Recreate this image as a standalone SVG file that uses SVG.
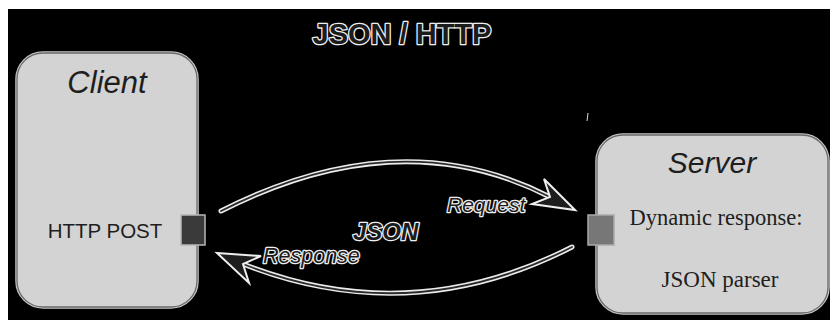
<svg xmlns="http://www.w3.org/2000/svg" width="830" height="320" viewBox="0 0 830 320">
<defs>
<style>
.box-halo{fill:none;stroke:#c8c8c8;stroke-width:3.5}
.box{fill:#d3d3d3;stroke:#6a6a6a;stroke-width:1.3}
.sans{font-family:"Liberation Sans",Arial,sans-serif}
.serif{font-family:"Liberation Serif","Times New Roman",serif;fill:#1e1e1e}
.title{font-style:italic;fill:#1e1e1e}
.glow{fill:#1c1c1c;stroke:#efefef;stroke-width:2.6;paint-order:stroke;stroke-linejoin:round}
.wire-out{fill:none;stroke:#ececec;stroke-width:5;stroke-linecap:round}
.wire-in{fill:none;stroke:#2a2a2a;stroke-width:1.8;stroke-linecap:round}
.head{fill:#1e1e1e;stroke:#efefef;stroke-width:2;stroke-linejoin:miter}
</style>
</defs>
<rect x="0" y="0" width="830" height="320" fill="#ffffff"/>
<rect x="8" y="9" width="822" height="311" fill="#000000"/>
<text class="sans glow" x="402" y="44" font-size="29" font-weight="bold" text-anchor="middle">JSON / HTTP</text>
<g id="client">
<rect class="box-halo" x="17" y="53" width="180" height="254" rx="26"/>
<rect class="box" x="17" y="53" width="180" height="254" rx="26"/>
<text class="sans title" x="107" y="93" font-size="31" text-anchor="middle">Client</text>
<text class="sans" x="105" y="238" font-size="20.5" text-anchor="middle" fill="#1e1e1e">HTTP POST</text>
<rect x="181" y="215" width="24" height="30" fill="#3a3a3a" stroke="#b8b8b8" stroke-width="1.5"/>
</g>
<g id="server">
<rect class="box-halo" x="597" y="135" width="231" height="178" rx="26"/>
<rect class="box" x="597" y="135" width="231" height="178" rx="26"/>
<text class="sans title" x="712" y="173" font-size="30" text-anchor="middle">Server</text>
<text class="serif" x="716" y="225" font-size="22.5" text-anchor="middle">Dynamic response:</text>
<text class="serif" x="720" y="287" font-size="23" text-anchor="middle">JSON parser</text>
<rect x="588" y="215" width="26" height="30" fill="#777777" stroke="#aaaaaa" stroke-width="1.5"/>
</g>
<g id="connectors">
<g id="request">
<path class="wire-out" d="M221,211 Q400,120 550,197"/>
<path class="wire-in" d="M221,211 Q400,120 550,197"/>
<polygon class="head" points="575,210 544,179 550,197 532,204"/>
<text class="sans glow" x="447" y="212" font-size="21" font-style="italic">Request</text>
</g>
<g id="response">
<path class="wire-out" d="M572,247 Q410,330 243,264"/>
<path class="wire-in" d="M572,247 Q410,330 243,264"/>
<polygon class="head" points="217,253 261,256 243,264 249,283"/>
<text class="sans glow" x="263" y="263" font-size="21.5" font-style="italic">Response</text>
</g>
<text class="sans glow" x="353" y="240" font-size="24" font-weight="bold" font-style="italic">JSON</text>
</g>
<line x1="588" y1="113" x2="587" y2="121" stroke="#dddddd" stroke-width="1"/>
</svg>
